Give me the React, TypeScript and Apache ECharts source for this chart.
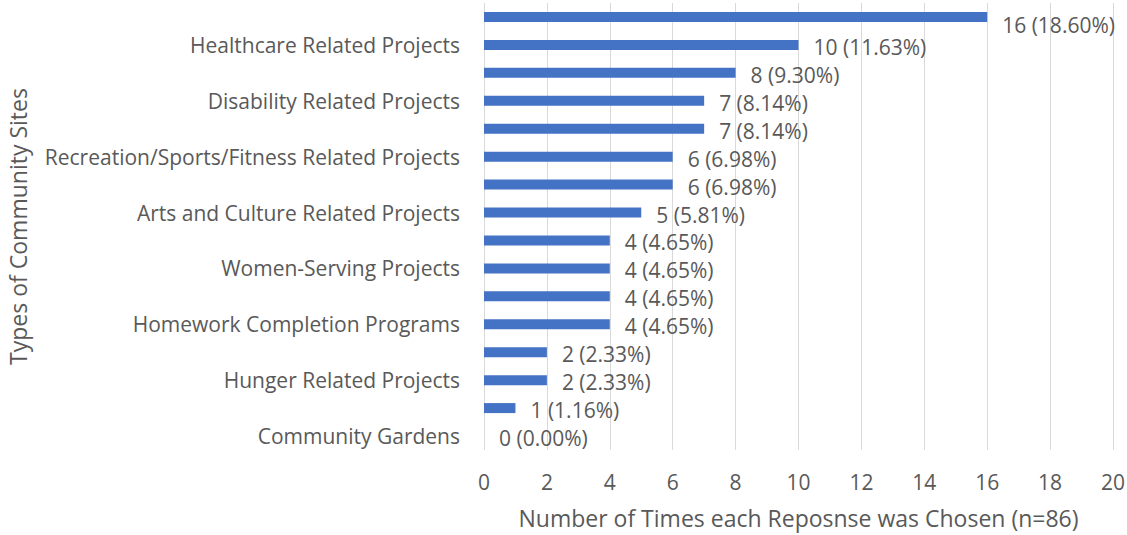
import React, { useEffect, useRef } from "react";
import * as echarts from "echarts";

// bottom to top
const categories: string[] = [
  "Community Gardens",
  "",
  "Hunger Related Projects",
  "",
  "Homework Completion Programs",
  "",
  "Women-Serving Projects",
  "",
  "Arts and Culture Related Projects",
  "",
  "Recreation/Sports/Fitness Related Projects",
  "",
  "Disability Related Projects",
  "",
  "Healthcare Related Projects",
  "",
];
const counts: number[] = [0, 1, 2, 2, 4, 4, 4, 4, 5, 6, 6, 7, 7, 8, 10, 16];
const percents: string[] = [
  "0.00", "1.16", "2.33", "2.33", "4.65", "4.65", "4.65", "4.65",
  "5.81", "6.98", "6.98", "8.14", "8.14", "9.30", "11.63", "18.60",
];
const xTicks = { min: 0, max: 20, interval: 2 };
const xTitle = "Number of Times each Reposnse was Chosen (n=86)";
const yTitle = "Types of Community Sites";

const FONT = "Open Sans";
const TEXT = "#595959";

export default function App() {
  const ref = useRef<HTMLDivElement>(null);
  useEffect(() => {
    if (!ref.current) return;
    const chart = echarts.init(ref.current, undefined, { renderer: "svg" });
    const last = counts.length - 1;
    chart.setOption({
      animation: false,
      textStyle: { fontFamily: FONT },
      grid: {
        left: 484,
        right: 14,
        top: 3,
        bottom: 85,
        containLabel: false,
        outerBoundsMode: "none",
      },
      xAxis: {
        type: "value",
        min: xTicks.min,
        max: xTicks.max,
        interval: xTicks.interval,
        axisLine: { show: false },
        axisTick: { show: false },
        splitLine: { show: true, lineStyle: { color: "#d9d9d9", width: 1 } },
        axisLabel: { color: TEXT, fontSize: 21, fontFamily: FONT, margin: 21 },
        name: xTitle,
        nameLocation: "middle",
        nameGap: 56,
        nameTextStyle: { color: TEXT, fontSize: 23, fontFamily: FONT },
      },
      yAxis: {
        type: "category",
        data: categories,
        axisLine: { show: false },
        axisTick: { show: false },
        splitLine: { show: false },
        axisLabel: {
          interval: 1,
          color: TEXT,
          fontSize: 21,
          fontFamily: FONT,
          margin: 24,
        },
        name: yTitle,
        nameLocation: "middle",
        nameRotate: 90,
        nameGap: 455,
        nameTextStyle: { color: TEXT, fontSize: 23, fontFamily: FONT },
      },
      series: [
        {
          type: "bar",
          barWidth: 10,
          itemStyle: { color: "#4472C4" },
          data: counts.map((v, i) => ({
            value: v,
            label: {
              show: true,
              position: "right",
              distance: 15,
              offset: [0, i === last ? 8 : 2],
              color: TEXT,
              fontSize: 21,
              fontFamily: FONT,
              formatter: () => `${v} (${percents[i]}%)`,
            },
          })),
        },
      ],
    });
    return () => chart.dispose();
  }, []);
  return <div ref={ref} style={{ width: 1127, height: 535, position: "absolute", left: 0, top: 0 }} />;
}
